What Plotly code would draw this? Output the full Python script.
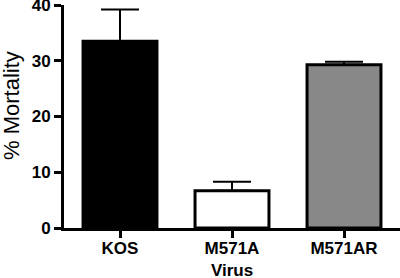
import plotly.graph_objects as go

categories = ["KOS", "M571A", "M571AR"]
mortality = [33.5, 6.7, 29.3]
error_up = [5.7, 1.6, 0.5]
fill_colors = ["#000000", "#ffffff", "#888888"]
y_ticks = [0, 10, 20, 30, 40]

FONT = "Arial, Liberation Sans, sans-serif"

# plot area in pixels: x 64..400, y 5..228
PW, PH = 336, 223

fig = go.Figure()
fig.add_trace(go.Bar(
    x=categories,
    y=mortality,
    width=0.66,
    marker=dict(color=fill_colors, line=dict(color="#000000", width=3)),
    error_y=dict(type="data", array=error_up, arrayminus=[0, 0, 0],
                 symmetric=False, color="#000000", thickness=2, width=19),
    cliponaxis=False,
    hoverinfo="skip",
))

fig.update_layout(
    width=400, height=278,
    margin=dict(l=64, r=0, t=5, b=50, autoexpand=False),
    plot_bgcolor="white", paper_bgcolor="white",
    showlegend=False,
    xaxis=dict(
        range=[-0.5, 2.5], automargin=False,
        showline=True, linecolor="black", linewidth=3,
        ticks="outside", ticklen=7, tickwidth=3, tickcolor="black",
        tickfont=dict(family=FONT, size=17, color="black", weight="bold"),
        showgrid=False, zeroline=False, ticklabeloverflow="allow",
        ticklabelstandoff=-4,
    ),
    yaxis=dict(
        range=[0, 40], automargin=False,
        tickvals=y_ticks,
        showline=True, linecolor="black", linewidth=3,
        ticks="outside", ticklen=7, tickwidth=3, tickcolor="black",
        tickfont=dict(family=FONT, size=17, color="black", weight="bold"),
        showgrid=False, zeroline=False, ticklabeloverflow="allow",
    ),
    annotations=[
        dict(
            text="% Mortality", textangle=-90,
            xref="paper", yref="paper", x=(11 - 64) / PW, y=(228 - 106) / PH,
            xanchor="center", yanchor="middle", showarrow=False,
            font=dict(family=FONT, size=22, color="black"),
        ),
        dict(
            text="Virus",
            xref="paper", yref="paper", x=0.5, y=(228 - 270) / PH,
            xanchor="center", yanchor="middle", showarrow=False,
            font=dict(family=FONT, size=17, color="black", weight="bold"),
        ),
    ],
)

fig.write_html("out.html", config={"displayModeBar": False, "staticPlot": True})

# remove the browser's default 8px body margin so the figure sits at (0, 0)
with open("out.html", "r", encoding="utf-8") as f:
    html = f.read()
html = html.replace("<head>", "<head><style>html,body{margin:0;padding:0;overflow:hidden}</style>", 1)
with open("out.html", "w", encoding="utf-8") as f:
    f.write(html)
